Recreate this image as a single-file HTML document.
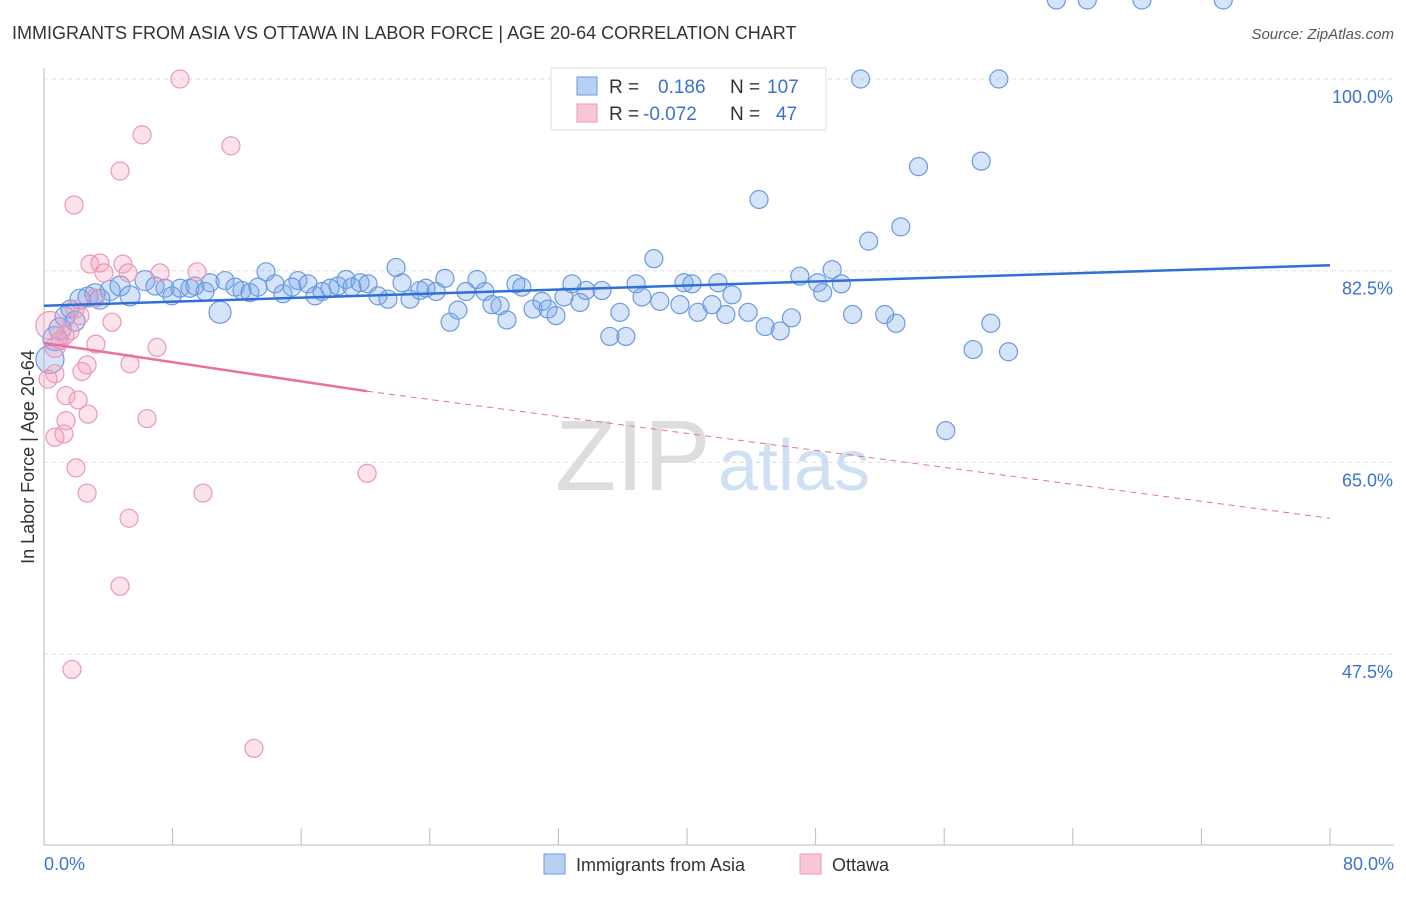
<!DOCTYPE html>
<html><head><meta charset="utf-8"><style>
body{margin:0;background:#fff;font-family:"Liberation Sans",sans-serif;}
svg text{font-family:"Liberation Sans",sans-serif;}
</style></head><body>
<svg width="1406" height="892" xmlns="http://www.w3.org/2000/svg">
<text x="12" y="39" font-size="18" fill="#333">IMMIGRANTS FROM ASIA VS OTTAWA IN LABOR FORCE | AGE 20-64 CORRELATION CHART</text>
<text x="1394" y="39" font-size="15" fill="#555" font-style="italic" text-anchor="end">Source: ZipAtlas.com</text>
<text x="555" y="490" font-size="100" fill="#ddd" font-family="Liberation Serif">ZIP</text>
<text x="718" y="490" font-size="72" fill="#cfe0f5">atlas</text>
<g id="grid"></g>
<g id="axes"></g>
<g id="pts"></g>
<g id="lines"></g>
<text transform="translate(34,457) rotate(-90)" font-size="18" fill="#333" text-anchor="middle">In Labor Force | Age 20-64</text>
<text x="44" y="870" font-size="18" fill="#3b73d1">0.0%</text>
<text x="1394" y="870" font-size="18" fill="#3b73d1" text-anchor="end">80.0%</text>
<g>
<rect x="551" y="68" width="275" height="62" fill="#fff" stroke="#ddd"/>
<rect x="577" y="77" width="20" height="18" fill="#b9d0f5" stroke="#6b9ae0"/>
<rect x="577" y="104" width="20" height="18" fill="#f9c6d6" stroke="#e899b5"/>
<text x="609" y="93" font-size="19" fill="#333">R = <tspan fill="#3b73d1" x="658">0.186</tspan><tspan fill="#333" x="730">N =</tspan><tspan fill="#3b73d1" x="767">107</tspan></text>
<text x="609" y="120" font-size="19" fill="#333">R = <tspan fill="#3b73d1" x="643">-0.072</tspan><tspan fill="#333" x="730">N =</tspan><tspan fill="#3b73d1" x="776">47</tspan></text>
</g>
<g>
<rect x="544" y="854" width="21" height="20" fill="#b9d0f5" stroke="#6b9ae0"/>
<text x="576" y="871" font-size="18" fill="#333">Immigrants from Asia</text>
<rect x="800" y="854" width="21" height="20" fill="#f9c6d6" stroke="#e899b5"/>
<text x="832" y="871" font-size="18" fill="#333">Ottawa</text>
</g>
</svg>
<script>
const yTicks=[100,82.5,65,47.5];
const yTickLabels=["100.0%","82.5%","65.0%","47.5%"];
const xTicks=[0,8,16,24,32,40,48,56,64,72,80];
const asiaX=[0.37,0.68,1.0,1.31,1.62,1.93,2.24,2.74,3.17,3.48,4.11,4.73,5.35,6.28,6.91,7.53,7.96,8.46,9.08,9.39,10.02,10.33,10.95,11.26,11.88,12.32,12.81,13.31,13.81,14.37,14.87,15.43,15.8,16.42,16.86,17.29,17.79,18.29,18.79,19.16,19.66,20.16,20.78,21.4,21.9,22.27,22.77,23.39,23.76,24.39,24.94,25.26,25.75,26.25,26.94,27.43,27.87,28.37,28.8,29.36,29.73,30.42,30.98,31.35,31.85,32.35,32.84,33.34,33.71,34.71,35.2,35.83,36.2,36.83,37.2,37.94,38.31,39.56,39.81,40.31,40.68,41.55,41.93,42.42,42.8,43.8,44.48,44.86,45.8,46.5,47.02,48.13,48.44,49.03,49.6,50.3,50.8,51.3,52.3,53,53.3,54.4,56.1,57.8,58.3,58.9,59.4,60,62.98,64.9,68.3,73.36];
const asiaY=[74.4,76.3,77.2,78.3,79.0,77.9,79.9,80.1,80.4,79.9,80.7,81.1,80.2,81.6,81.1,80.9,80.2,80.9,80.9,81.1,80.6,81.4,78.7,81.6,81.0,80.7,80.5,81.0,82.4,81.3,80.4,81.0,81.6,81.3,80.2,80.6,80.9,81.1,81.7,81.0,81.4,81.3,80.2,79.9,82.8,81.4,79.9,80.7,80.9,80.6,81.8,77.8,78.9,80.6,81.7,80.6,79.4,79.3,78.0,81.3,81.0,79.0,79.7,79.0,78.4,80.1,81.3,79.6,80.7,80.7,76.5,78.7,76.5,81.3,80.1,83.6,79.7,79.4,81.4,81.3,78.7,79.4,81.4,78.5,80.3,78.7,89.0,77.4,77.0,78.2,82.0,81.4,80.5,82.6,81.3,78.5,100.0,85.2,78.5,77.7,86.5,92.0,67.9,75.3,92.5,77.7,100.0,75.1];
const asiaR=[14,12,11,10,9,10,10,10,10,10,10,10,10,10,9,9,9,9,9,9,9,9,11,9,9,9,9,9,9,9,9,9,9,9,9,9,9,9,9,9,9,9,9,9,9,9,9,9,9,9,9,9,9,9,9,9,9,9,9,9,9,9,9,9,9,9,9,9,9,9,9,9,9,9,9,9,9,9,9,9,9,9,9,9,9,9,9,9,9,9,9,9,9,9,9,9,9,9,9,9,9,9,9,9,9,9,9,9,9,9];
const ottX=[8.46,6.1,11.63,4.73,1.87,2.86,3.48,4.91,5.23,3.73,7.22,9.52,3.17,1.93,2.24,4.23,1.62,1.31,1.0,0.37,0.68,3.23,7.03,5.35,2.68,2.36,0.68,0.25,1.37,2.12,2.74,1.37,6.41,0.68,1.24,1.99,2.68,20.1,9.89,5.29,4.73,1.74,13.06];
const ottY=[100.0,94.9,93.9,91.6,88.5,83.1,83.2,83.1,82.3,82.3,82.3,82.4,80.0,79.0,78.4,77.8,77.0,76.6,76.1,77.5,75.5,75.8,75.5,74.0,73.9,73.3,73.1,72.6,71.1,70.7,69.4,68.8,69.0,67.3,67.6,64.5,62.2,64.0,62.2,59.9,53.7,46.1,38.9];
const ottR=[9,9,9,9,9,9,9,9,9,9,9,9,9,9,9,9,9,9,9,14,10,9,9,9,9,9,9,9,9,9,9,9,9,9,9,9,9,9,9,9,9,9,9];
const asiaTrend=[[0,79.3],[80,83.0]];
const ottTrendSolid=[[0,75.9],[20.1,71.5]];
const ottTrendDash=[[20.1,71.5],[80,59.9]];
const X=v=>44+v/80*1286;
const Y=v=>79+(100-v)/17.5*191.7;
const NS="http://www.w3.org/2000/svg";
function mk(tag,attrs,parent){const e=document.createElementNS(NS,tag);for(const k in attrs)e.setAttribute(k,attrs[k]);document.getElementById(parent).appendChild(e);return e;}
yTicks.forEach((t,i)=>{
 const g=mk('line',{x1:44,x2:1394,y1:Y(t),y2:Y(t),stroke:'#ddd','stroke-dasharray':'4,4'},'grid');
 
 
 const tx=mk('text',{x:1393,y:Y(t)+24,'font-size':18,fill:'#3b73d1','text-anchor':'end'},'grid');
 tx.textContent=yTickLabels[i];
 
 
});
const ax=mk('line',{x1:44,x2:44,y1:68,y2:845,stroke:'#bbb'},'axes');


const bx=mk('line',{x1:44,x2:1394,y1:845,y2:845,stroke:'#bbb'},'axes');


xTicks.forEach(t=>{
 const l=mk('line',{x1:X(t),x2:X(t),y1:828,y2:845,stroke:'#bbb'},'axes');
 
 
});
asiaX.forEach((v,i)=>{
 const c=mk('circle',{cx:X(v),cy:Y(asiaY[i]),r:asiaR[i]||9,fill:'rgba(120,165,235,0.3)',stroke:'#6b9ae0','stroke-width':1.2},'pts');
 
 
});
ottX.forEach((v,i)=>{
 const c=mk('circle',{cx:X(v),cy:Y(ottY[i]),r:ottR[i]||9,fill:'rgba(245,160,190,0.3)',stroke:'#e899b5','stroke-width':1.2},'pts');
 
 
});
function ln(p,st,name){const l=mk('line',Object.assign({x1:X(p[0][0]),y1:Y(p[0][1]),x2:X(p[1][0]),y2:Y(p[1][1])},st),'lines');
 
 }
ln(asiaTrend,{stroke:'#2f6fd6','stroke-width':2.5},'trend-asia');
ln(ottTrendSolid,{stroke:'#e8709a','stroke-width':2.5},'trend-ottawa');
ln(ottTrendDash,{stroke:'#e8709a','stroke-width':1,'stroke-dasharray':'6,5'},'trend-ottawa-dashed');
</script>
</body></html>
